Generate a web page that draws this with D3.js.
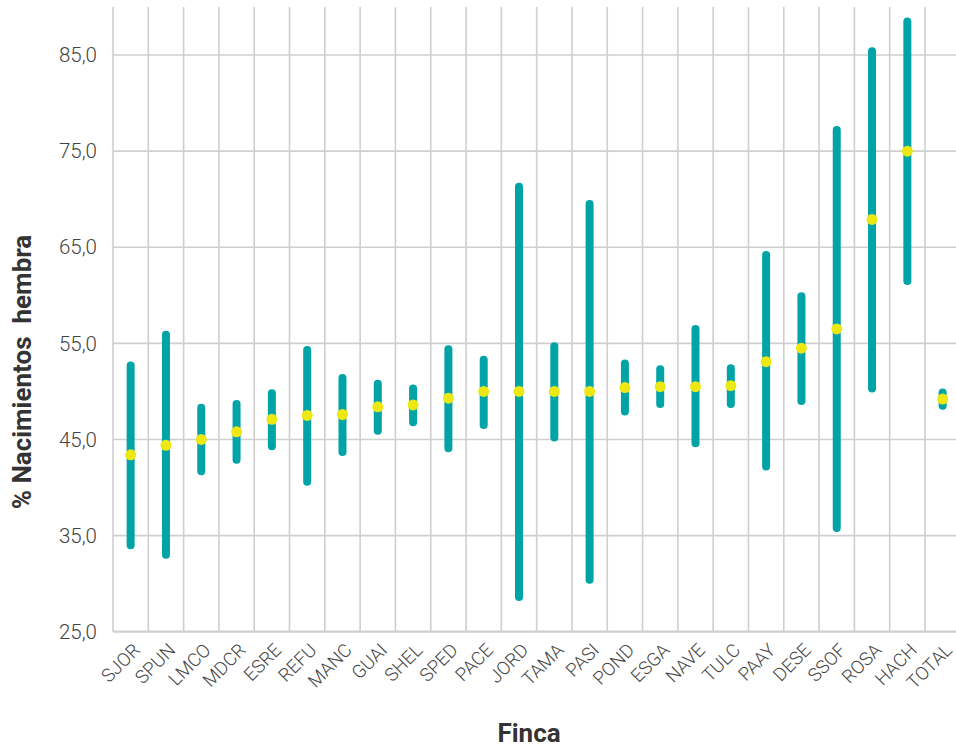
<!DOCTYPE html>
<html>
<head>
<meta charset="utf-8">
<script src="https://cdn.jsdelivr.net/npm/d3@7"></script>
<style>
  html, body { margin: 0; padding: 0; background: #fff; }
  svg { display: block; font-family: Roboto, "Noto Sans", sans-serif; }
</style>
</head>
<body>
<svg id="chart" width="956" height="747"></svg>
<script>
// Fincas, in the order shown
const fincas = ["SJOR", "SPUN", "LMCO", "MDCR", "ESRE", "REFU", "MANC", "GUAI", "SHEL", "SPED",
  "PACE", "JORD", "TAMA", "PASI", "POND", "ESGA", "NAVE", "TULC", "PAAY", "DESE",
  "SSOF", "ROSA", "HACH", "TOTAL"];

// Lower and upper limits of the range, and the central value (% female births)
const lower = [34.0, 33.0, 41.7, 42.9, 44.3, 40.6, 43.7, 45.9, 46.8, 44.1,
  46.5, 28.6, 45.2, 30.4, 47.9, 48.7, 44.6, 48.7, 42.2, 49.0,
  35.8, 50.3, 61.5, 48.5];
const upper = [52.7, 55.9, 48.3, 48.7, 49.8, 54.3, 51.4, 50.8, 50.3, 54.4,
  53.3, 71.3, 54.7, 69.5, 52.9, 52.3, 56.5, 52.4, 64.2, 59.9,
  77.2, 85.4, 88.5, 49.9];
const central = [43.4, 44.4, 45.0, 45.8, 47.1, 47.5, 47.6, 48.4, 48.6, 49.3,
  50.0, 50.0, 50.0, 50.0, 50.4, 50.5, 50.5, 50.6, 53.1, 54.5,
  56.5, 67.9, 75.0, 49.2];

const yTicks = [25, 35, 45, 55, 65, 75, 85];

const rows = fincas.map((f, i) => ({ finca: f, lo: lower[i], hi: upper[i], mid: central[i] }));

const svg = d3.select("#chart");
const plotLeft = 113, plotRight = 960.3, plotTop = 7, plotBottom = 631.7;

const x = d3.scaleBand().domain(fincas).range([plotLeft, plotRight]).padding(0);
const y = d3.scaleLinear().domain([25, 90]).range([plotBottom, plotTop]);

const grid = svg.append("g").attr("stroke", "#cfcfcf").attr("stroke-width", 1.6);

// vertical grid at band edges
grid.selectAll("line.v").data(fincas).join("line")
  .attr("class", "v")
  .attr("x1", d => x(d)).attr("x2", d => x(d))
  .attr("y1", plotTop).attr("y2", plotBottom);

// horizontal grid at ticks
grid.selectAll("line.h").data(yTicks).join("line")
  .attr("class", "h")
  .attr("x1", plotLeft).attr("x2", 956)
  .attr("y1", d => y(d)).attr("y2", d => y(d))
  .attr("stroke-width", d => d === 25 ? 2.2 : 1.6);

// y tick labels
const fmt = v => d3.format(".1f")(v).replace(".", ",");
svg.append("g").selectAll("text").data(yTicks).join("text")
  .attr("x", 97).attr("y", d => y(d))
  .attr("dy", "0.35em")
  .attr("text-anchor", "end")
  .attr("font-size", 20.5)
  .attr("font-weight", 300)
  .attr("fill", "#444")
  .text(fmt);

// x category labels
svg.append("g").selectAll("text").data(fincas).join("text")
  .attr("text-anchor", "end")
  .attr("transform", d => `translate(${x(d) + x.bandwidth() / 2 + 6},${plotBottom + 15}) rotate(-45)`)
  .attr("dy", "0.35em")
  .attr("font-size", 18.5)
  .attr("font-weight", 300)
  .attr("fill", "#444")
  .text(d => d);

// range bars
svg.append("g").selectAll("line").data(rows).join("line")
  .attr("x1", d => x(d.finca) + x.bandwidth() / 2)
  .attr("x2", d => x(d.finca) + x.bandwidth() / 2)
  .attr("y1", d => y(d.lo)).attr("y2", d => y(d.hi))
  .attr("stroke", "#00A4A7")
  .attr("stroke-width", 8)
  .attr("stroke-linecap", "round");

// central values
svg.append("g").selectAll("circle").data(rows).join("circle")
  .attr("cx", d => x(d.finca) + x.bandwidth() / 2)
  .attr("cy", d => y(d.mid))
  .attr("r", 5.5)
  .attr("fill", "#EDE713");

// axis titles
svg.append("text")
  .attr("x", 529).attr("y", 742)
  .attr("text-anchor", "middle")
  .attr("font-size", 26)
  .attr("font-weight", 700)
  .attr("fill", "#333")
  .text("Finca");

svg.append("text")
  .attr("transform", "translate(31,372) rotate(-90)")
  .attr("text-anchor", "middle")
  .attr("font-size", 26)
  .attr("font-weight", 700)
  .attr("fill", "#333")
  .style("white-space", "pre")
  .text("% Nacimientos  hembra");
</script>
</body>
</html>
